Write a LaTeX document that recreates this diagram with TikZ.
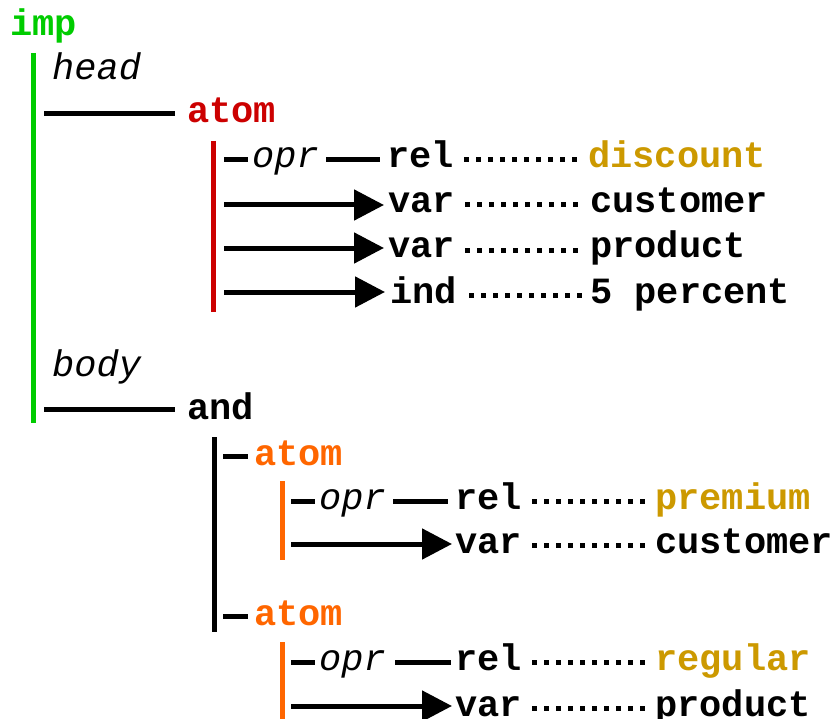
\documentclass[tikz,border=0pt]{standalone}
\usepackage{fontspec}
\setmonofont{Liberation Mono}
\usetikzlibrary{arrows.meta}
\definecolor{impgreen}{RGB}{0,204,0}
\definecolor{atomred}{RGB}{204,0,0}
\definecolor{atomorange}{RGB}{255,102,0}
\definecolor{constgold}{RGB}{204,153,0}
\tikzset{
    kw/.style={anchor=west, inner sep=0pt, text height=23pt, text depth=7pt,
        font=\fontsize{37}{40}\selectfont\ttfamily\bfseries},
    role/.style={kw, font=\fontsize{37}{40}\selectfont\ttfamily\itshape},
    bar/.style={line width=5pt},
    stem/.style={line width=5pt},
    leader/.style={line width=5pt, dash pattern=on 5pt off 7pt},
    argarrow/.style={line width=5pt, -{Triangle[length=30pt, width=30pt]}}
}

\begin{document}
\begin{tikzpicture}[x=1pt, y=-1pt]
\useasboundingbox (0,0) rectangle (837,719);

% rule
\node[kw, text=impgreen] (imp) at (10,28) {imp};
\node[role] (head) at (52,72) {head};
\node[role] (body) at (52,368) {body};
\coordinate (impTop) at (33,53);
\coordinate (impBot) at (33,423);
\draw[bar, impgreen] (impTop) -- (impBot);

% head
\node[kw, text=atomred] (hatom) at (187,115) {atom};
\coordinate (hstem) at (44,114);
\draw[stem, shorten >=12pt] (hstem) -- (hatom.west |- hstem);
\coordinate (hatomTop) at (213,141);
\coordinate (hatomBot) at (213,312);
\draw[bar, atomred] (hatomTop) -- (hatomBot);

\node[role] (opr1) at (252,160) {opr};
\node[kw] (rel1) at (387,160) {rel};
\node[kw, text=constgold] (val1) at (588,160) {discount};
\node[kw] (var1) at (388,205) {var};
\node[kw] (val2) at (590,205) {customer};
\node[kw] (var2) at (388,250) {var};
\node[kw] (val3) at (590,250) {product};
\node[kw] (ind1) at (390,295) {ind};
\node[kw] (val4) at (590,295) {5 percent};

\coordinate (h1) at (224,160);
\coordinate (h2) at (224,205);
\coordinate (h3) at (224,248);
\coordinate (h4) at (224,292);
\draw[stem, shorten >=4pt] (h1) -- (opr1.west);
\draw[stem, shorten <=7pt, shorten >=7pt] (opr1.east) -- (rel1.west);
\draw[argarrow, shorten >=4pt] (h2) -- (var1.west |- h2);
\draw[argarrow, shorten >=4pt] (h3) -- (var2.west |- h3);
\draw[argarrow, shorten >=5pt] (h4) -- (ind1.west |- h4);
\draw[leader, shorten <=10pt, shorten >=4pt] (rel1.east) -- (val1.west);
\draw[leader, shorten <=10pt, shorten >=6pt] (var1.east) -- (val2.west);
\draw[leader, shorten <=10pt, shorten >=6pt] (var2.east) -- (val3.west);
\draw[leader, shorten <=12pt, shorten >=6pt] (ind1.east) -- (val4.west);

% body
\node[kw] (and) at (187,411) {and};
\coordinate (bstem) at (44,409);
\draw[stem, shorten >=12pt] (bstem) -- (and.west |- bstem);
\coordinate (andTop) at (214,437);
\coordinate (andBot) at (214,632);
\draw[bar] (andTop) -- (andBot);

% first conjunct
\node[kw, text=atomorange] (batom1) at (254,457) {atom};
\coordinate (b1) at (223,456);
\draw[stem, shorten >=6pt] (b1) -- (batom1.west |- b1);
\coordinate (batom1Top) at (282,481);
\coordinate (batom1Bot) at (282,560);
\draw[bar, atomorange] (batom1Top) -- (batom1Bot);

\node[role] (opr2) at (319,501) {opr};
\node[kw] (rel2) at (455,501) {rel};
\node[kw, text=constgold] (val5) at (655,501) {premium};
\node[kw] (var3) at (455,545) {var};
\node[kw] (val6) at (655,545) {customer};
\coordinate (p1) at (291,501);
\coordinate (p2) at (291,544);
\draw[stem, shorten >=4pt] (p1) -- (opr2.west);
\draw[stem, shorten <=7pt, shorten >=7pt] (opr2.east) -- (rel2.west);
\draw[argarrow, shorten >=3pt] (p2) -- (var3.west |- p2);
\draw[leader, shorten <=10pt, shorten >=6pt] (rel2.east) -- (val5.west);
\draw[leader, shorten <=10pt, shorten >=6pt] (var3.east) -- (val6.west);

% second conjunct
\node[kw, text=atomorange] (batom2) at (254,617) {atom};
\coordinate (b2) at (223,616);
\draw[stem, shorten >=6pt] (b2) -- (batom2.west |- b2);
\coordinate (batom2Top) at (282,642);
\coordinate (batom2Bot) at (282,725);
\draw[bar, atomorange] (batom2Top) -- (batom2Bot);

\node[role] (opr3) at (319,662) {opr};
\node[kw] (rel3) at (455,662) {rel};
\node[kw, text=constgold] (val7) at (655,662) {regular};
\node[kw] (var4) at (455,708) {var};
\node[kw] (val8) at (655,708) {product};
\coordinate (q1) at (291,662);
\coordinate (q2) at (291,706);
\draw[stem, shorten >=4pt] (q1) -- (opr3.west);
\draw[stem, shorten <=9pt, shorten >=4pt] (opr3.east) -- (rel3.west);
\draw[argarrow, shorten >=3pt] (q2) -- (var4.west |- q2);
\draw[leader, shorten <=10pt, shorten >=6pt] (rel3.east) -- (val7.west);
\draw[leader, shorten <=10pt, shorten >=6pt] (var4.east) -- (val8.west);
\end{tikzpicture}
\end{document}
